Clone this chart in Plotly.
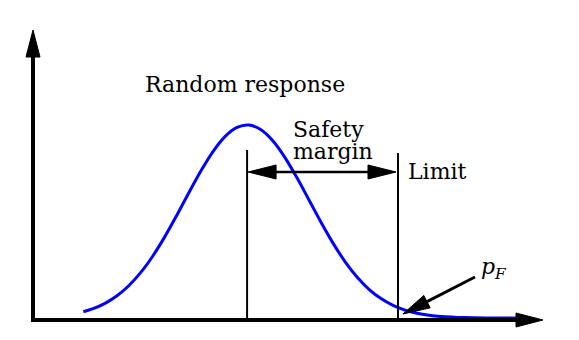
import plotly.graph_objects as go

# ---- data (response units; density scaled to 1 at the mode) ----
curve_x = [1.05, 1.25, 1.50, 1.75, 2.00, 2.25, 2.50, 2.75, 3.00, 3.25, 3.50, 3.75, 4.00, 4.25,
           4.50, 4.75, 5.00, 5.25, 5.50, 5.75, 6.00, 6.25, 6.50, 6.75, 7.00, 7.25, 7.50, 7.75,
           8.00, 8.25, 8.50, 9.00, 9.50, 10.15]
curve_y = [0.0424, 0.0578, 0.0852, 0.1241, 0.1768, 0.2452, 0.3296, 0.4288, 0.5389, 0.6537,
           0.7651, 0.8638, 0.9405, 0.9874, 0.9995, 0.9754, 0.9179, 0.8330, 0.7289, 0.6154,
           0.5013, 0.3943, 0.2998, 0.2206, 0.1575, 0.1096, 0.0749, 0.0507, 0.0347, 0.0245,
           0.0183, 0.0125, 0.0107, 0.0103]
mean_x = 4.46
limit_x = 7.604
labels = ["Random response", "Safety", "margin", "Limit", "<i>p</i><sub><i>F</i></sub>"]

# ---- layout constants ----
W, H = 579, 340
X0, X1 = -0.6875, 11.375
Y0, Y1 = -0.1026, 1.641
SX = W / (X1 - X0)   # px per x unit
SY = H / (Y1 - Y0)   # px per y unit

FONT = "DejaVu Serif"
shapes = []


def line(x0, y0, x1, y1, w):
    shapes.append(dict(type="line", x0=x0, y0=y0, x1=x1, y1=y1, xref="x", yref="y",
                       line=dict(color="black", width=w)))


def head(tx, ty, fx, fy, length=27, half=7):
    # arrowhead with tip at (tx,ty) pointing away from (fx,fy); computed in pixel space
    dx, dy = (tx - fx) * SX, (ty - fy) * SY
    n = (dx * dx + dy * dy) ** 0.5
    ux, uy = dx / n, dy / n
    bx, by = -ux * length, -uy * length
    px, py = -uy * half, ux * half
    p1 = (tx + (bx + px) / SX, ty + (by + py) / SY)
    p2 = (tx + (bx - px) / SX, ty + (by - py) / SY)
    path = f"M {tx},{ty} L {p1[0]},{p1[1]} L {p2[0]},{p2[1]} Z"
    shapes.append(dict(type="path", path=path, xref="x", yref="y",
                       fillcolor="black", line=dict(color="black", width=1)))
    return tx + bx * 0.9 / SX, ty + by * 0.9 / SY


fig = go.Figure()
fig.add_trace(go.Scatter(x=curve_x, y=curve_y, mode="lines",
                         line=dict(color="#0000ff", width=3, shape="spline", smoothing=1),
                         hoverinfo="skip", showlegend=False))

# axes
y_tip, x_tip = 1.487, 10.625
bx, by = head(0, y_tip, 0, 0, length=27, half=7)
line(0, -2 / SY, 0, by, 4)
bx, by = head(x_tip, 0, 0, 0, length=27, half=7)
line(-2 / SX, 0, bx, 0, 4)

# mean and limit lines
line(mean_x, 0, mean_x, 0.872, 2)
line(limit_x, -0.01, limit_x, 0.856, 2)

# safety margin double arrow
ya = 0.759
l_tip, r_tip = mean_x + 1 / SX, limit_x - 2 / SX
lb = head(l_tip, ya, r_tip, ya, length=28, half=7)
rb = head(r_tip, ya, l_tip, ya, length=28, half=7)
line(lb[0], ya, rb[0], ya, 2.5)

# pF arrow
tail = (9.208, 0.2205)
tip = (7.708, 0.0308)
hb = head(tip[0], tip[1], tail[0], tail[1], length=27, half=7)
line(hb[0], hb[1], tail[0], tail[1], 3)

ann = [
    dict(x=4.417, y=1.21, text=labels[0]),
    dict(x=6.146, y=0.975, text=labels[1]),
    dict(x=6.25, y=0.862, text=labels[2]),
    dict(x=7.77, y=0.76, text=labels[3], xanchor="left"),
    dict(x=9.6, y=0.265, text=labels[4]),
]
for a in ann:
    a.update(xref="x", yref="y", showarrow=False,
             font=dict(family=FONT, size=22, color="black"))

fig.update_layout(
    width=W, height=H, margin=dict(l=0, r=0, t=0, b=0),
    paper_bgcolor="white", plot_bgcolor="white",
    font=dict(family=FONT),
    xaxis=dict(range=[X0, X1], visible=False, fixedrange=True),
    yaxis=dict(range=[Y0, Y1], visible=False, fixedrange=True),
    shapes=shapes, annotations=ann, showlegend=False,
)
fig.write_html("out.html", config={"displayModeBar": False})
